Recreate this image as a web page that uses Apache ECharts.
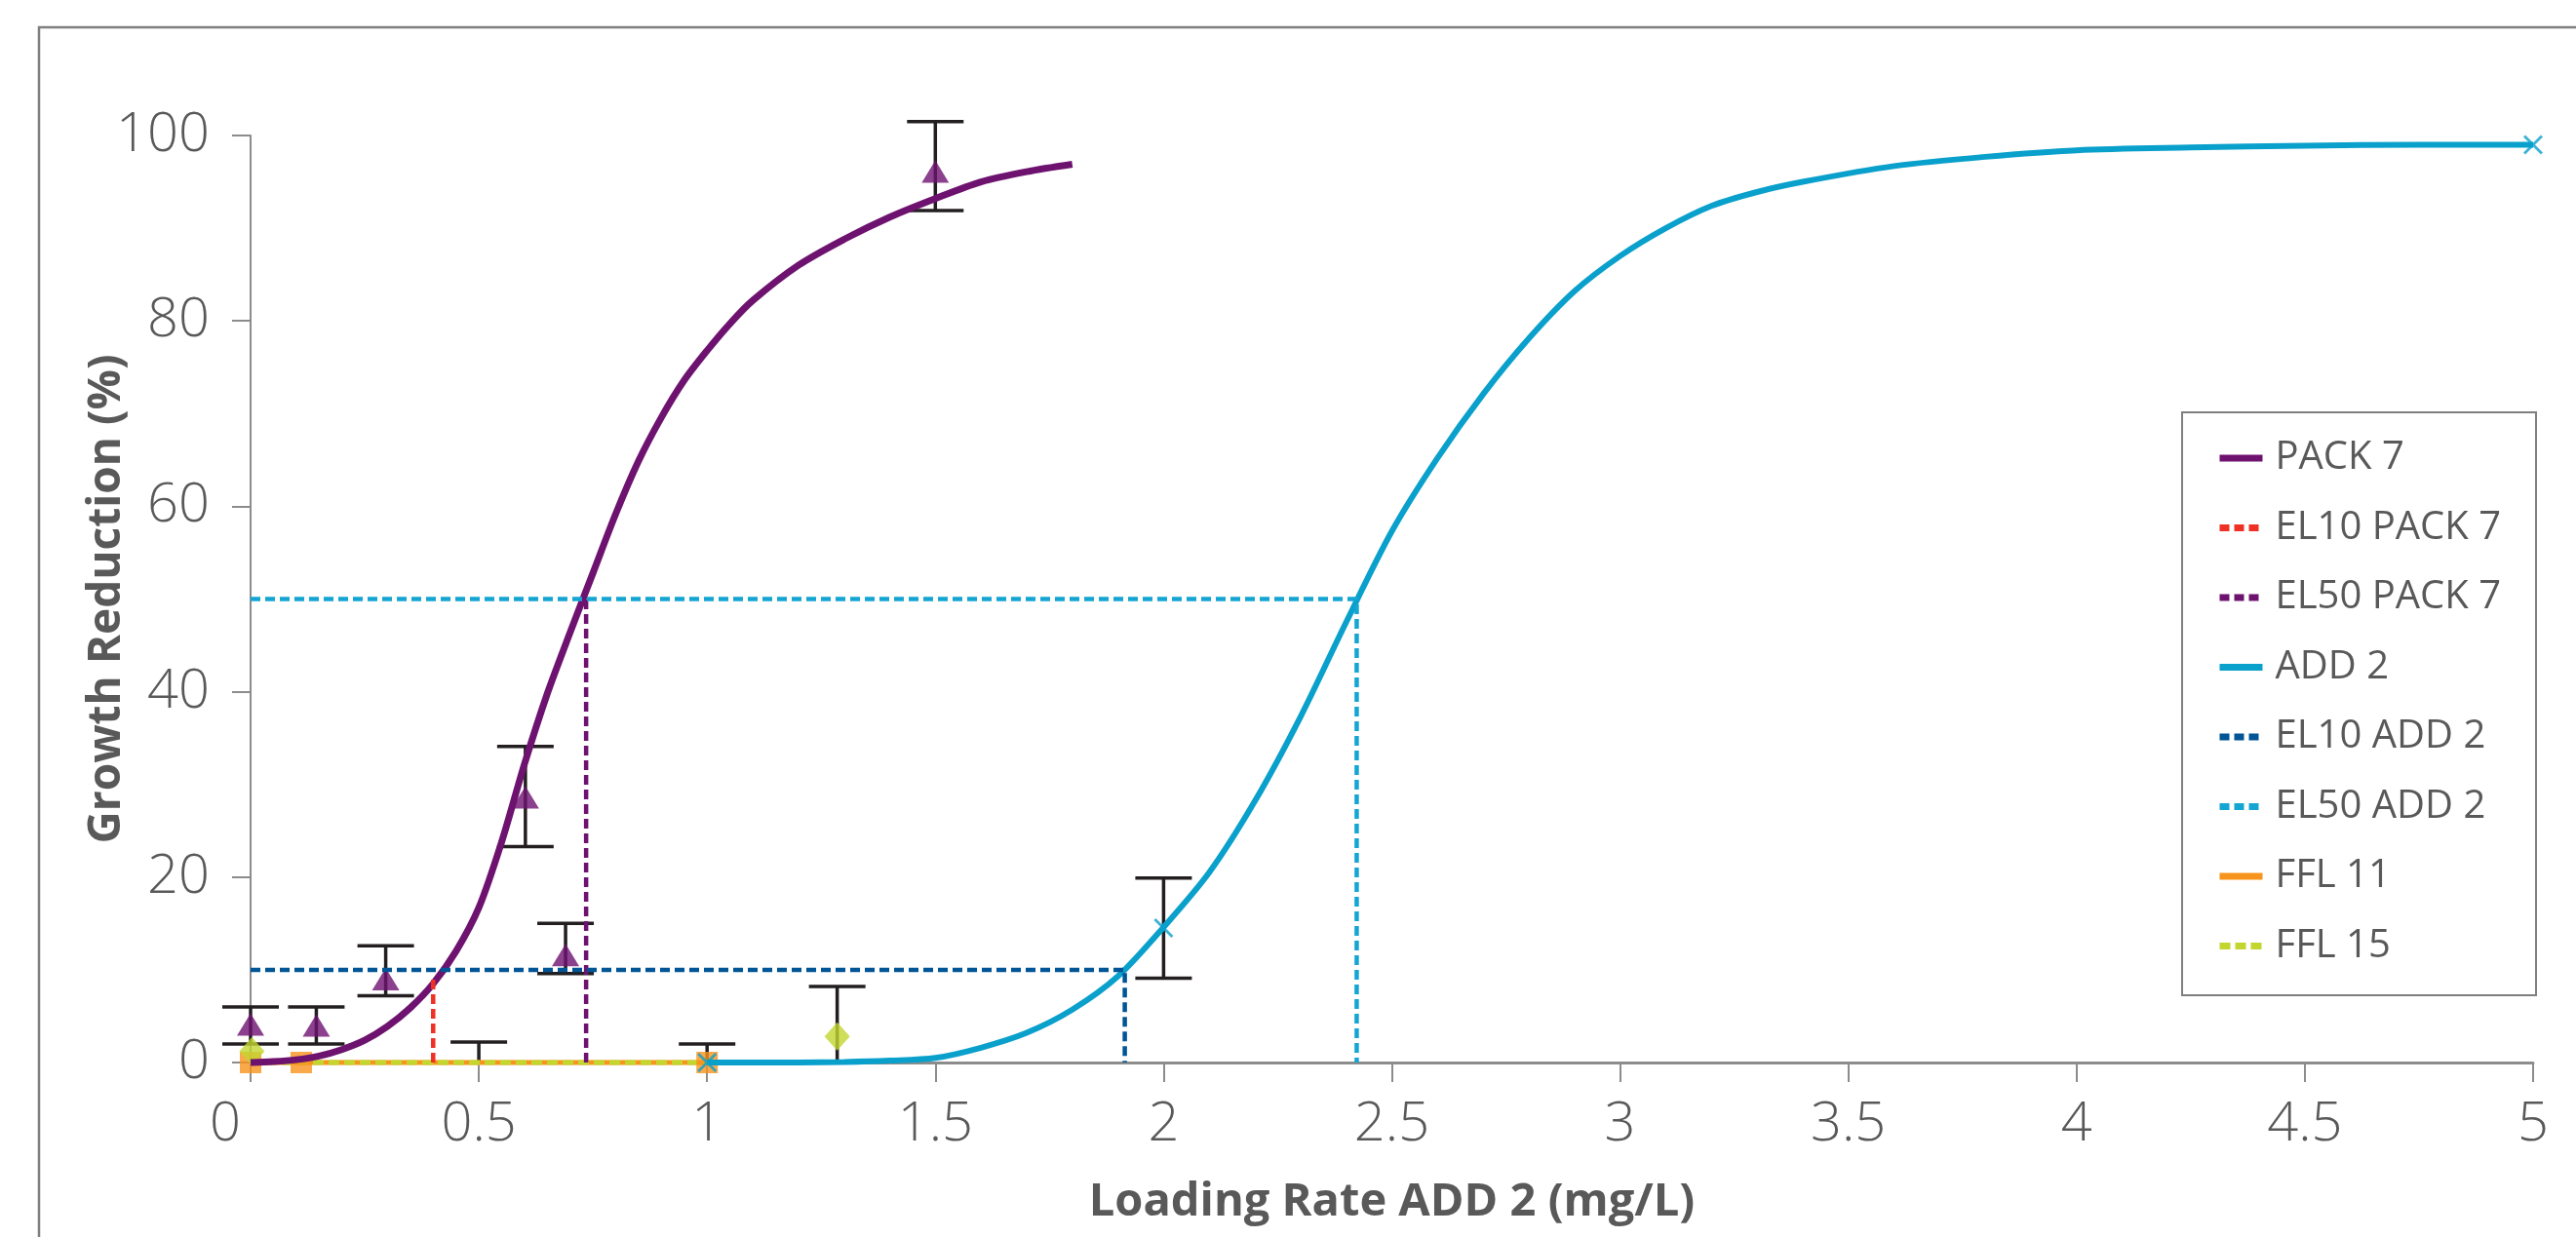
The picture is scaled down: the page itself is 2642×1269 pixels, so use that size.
<!DOCTYPE html>
<html>
<head>
<meta charset="utf-8">
<style>
html,body{margin:0;padding:0;background:#ffffff;}
#chart{width:2642px;height:1269px;}
</style>
<script src="https://cdn.jsdelivr.net/npm/echarts/dist/echarts.min.js"></script>
</head>
<body>
<div id="chart"></div>
<script>
// ---------- data ----------
const xTickValues = [0, 0.5, 1, 1.5, 2, 2.5, 3, 3.5, 4, 4.5, 5];
const yTickValues = [0, 20, 40, 60, 80, 100];

const legendNames = ['PACK 7', 'EL10 PACK 7', 'EL50 PACK 7', 'ADD 2', 'EL10 ADD 2', 'EL50 ADD 2', 'FFL 11', 'FFL 15'];

// fitted curve PACK 7
const pack7CurveX = [0, 0.05, 0.1, 0.15, 0.2, 0.25, 0.3, 0.35, 0.4, 0.45, 0.5, 0.55, 0.6, 0.65, 0.7, 0.75, 0.8, 0.85, 0.9, 0.95, 1.0, 1.05, 1.1, 1.2, 1.3, 1.4, 1.5, 1.6, 1.7, 1.8];
const pack7CurveY = [0, 0.1, 0.3, 0.7, 1.4, 2.4, 3.9, 5.9, 8.5, 12.0, 16.7, 23.8, 32.2, 39.8, 46.4, 52.8, 59.2, 64.9, 69.6, 73.6, 76.8, 79.7, 82.2, 86.0, 88.8, 91.2, 93.2, 95.0, 96.1, 96.9];

// measured PACK 7 points (triangles) with error bars
const pack7PtX = [0, 0.144, 0.296, 0.602, 0.69, 1.5];
const pack7PtY = [4.1, 4.0, 9.0, 28.6, 11.6, 96.1];
const pack7ErrLow = [2.0, 2.0, 7.2, 23.3, 9.6, 91.9];
const pack7ErrHigh = [6.0, 6.0, 12.6, 34.1, 15.0, 101.5];

// fitted curve ADD 2
const add2CurveX = [1.0, 1.2, 1.3, 1.4, 1.5, 1.6, 1.7, 1.8, 1.9, 2.0, 2.1, 2.2, 2.3, 2.4, 2.5, 2.6, 2.7, 2.8, 2.9, 3.0, 3.1, 3.2, 3.3, 3.4, 3.6, 3.8, 4.0, 4.25, 4.5, 4.75, 5.0];
const add2CurveY = [0, 0, 0.05, 0.2, 0.5, 1.6, 3.2, 5.7, 9.3, 14.6, 20.5, 28.2, 37.3, 47.5, 57.3, 65.2, 72.1, 78.1, 83.2, 87.0, 90.0, 92.4, 93.9, 95.0, 96.7, 97.7, 98.4, 98.7, 98.9, 99.0, 99.0];

// measured ADD 2 points (crosses) with error bars
const add2PtX = [1, 2, 5];
const add2PtY = [0, 14.5, 99.0];
const add2ErrX = [0.5, 1, 2];
const add2ErrLow = [0, 0, 9.1];
const add2ErrHigh = [2.2, 2.0, 19.9];

// EL lines
const el10Pack7X = [0.40, 0.40];
const el10Pack7Y = [0, 9];
const el50Pack7X = [0.735, 0.735];
const el50Pack7Y = [0, 50];
const el10Add2X = [0, 1.915, 1.915];
const el10Add2Y = [10, 10, 0];
const el50Add2X = [0, 2.423, 2.423];
const el50Add2Y = [50, 50, 0];

// FFL 11 and FFL 15
const ffl11LineX = [0, 1];
const ffl11LineY = [0, 0];
const ffl11PtX = [0, 0.111, 1];
const ffl11PtY = [0, 0, 0];
const ffl15LineX = [0, 1];
const ffl15LineY = [0, 0];
const ffl15PtX = [0.003, 1.285];
const ffl15PtY = [1.2, 2.8];
const ffl15ErrX = [1.285];
const ffl15ErrLow = [0];
const ffl15ErrHigh = [8.2];

// ---------- styles ----------
const C = {
  purple: '#6e1270',
  red: '#ee3124',
  blue: '#0aa0cc',
  darkBlue: '#005596',
  lightBlue: '#14a5d3',
  orange: '#f7941d',
  green: '#c3d62f',
  err: '#231f20',
  axis: '#8c8c8c',
  text: '#595959'
};

function pairs(xs, ys) { return xs.map((x, i) => [x, ys[i]]); }
function errPairs(xs, lo, hi) { return xs.map((x, i) => [x, lo[i], hi[i]]); }

const errData = [].concat(
  errPairs(pack7PtX, pack7ErrLow, pack7ErrHigh),
  errPairs(add2ErrX, add2ErrLow, add2ErrHigh),
  errPairs(ffl15ErrX, ffl15ErrLow, ffl15ErrHigh)
);

const Y_MIN = 0;
function renderErr(params, api) {
  const x = api.value(0), lo = api.value(1), hi = api.value(2);
  const top = api.coord([x, hi]);
  const bot = api.coord([x, Math.max(lo, Y_MIN)]);
  const half = 29;
  const style = { stroke: C.err, lineWidth: 3.5 };
  const children = [
    { type: 'line', shape: { x1: top[0], y1: top[1], x2: bot[0], y2: bot[1] }, style: style },
    { type: 'line', shape: { x1: top[0] - half, y1: top[1], x2: top[0] + half, y2: top[1] }, style: style }
  ];
  if (lo > Y_MIN) {
    children.push({ type: 'line', shape: { x1: bot[0] - half, y1: bot[1], x2: bot[0] + half, y2: bot[1] }, style: style });
  }
  return { type: 'group', children: children };
}

const crossPath = 'path://M1,0L5,4L9,0L10,1L6,5L10,9L9,10L5,6L1,10L0,9L4,5L0,1Z';
const dash = [10, 5];

function lineSeries(name, xs, ys, color, width, type, z, smooth) {
  return {
    name: name, type: 'line', data: pairs(xs, ys), z: z,
    symbol: 'none', showSymbol: false, clip: false,
    smooth: smooth ? 0.3 : false,
    lineStyle: { color: color, width: width, type: type, cap: 'butt' },
    itemStyle: { color: color },
    emphasis: { disabled: true }
  };
}

const option = {
  animation: false,
  backgroundColor: '#ffffff',
  grid: { left: 257, right: 44, top: 139, bottom: 179, containLabel: false },
  xAxis: {
    type: 'value', min: 0, max: 5, interval: 0.5,
    name: 'Loading Rate ADD 2 (mg/L)', nameLocation: 'middle', nameGap: 120, nameMoveOverlap: false,
    nameTextStyle: { color: C.text, fontSize: 47, fontWeight: 'bold', fontFamily: 'Open Sans' },
    axisLine: { show: true, onZero: false, lineStyle: { color: C.axis, width: 3 } },
    axisTick: { show: true, inside: false, length: 20, lineStyle: { color: C.axis, width: 2 } },
    axisLabel: {
      color: C.text, fontSize: 56, fontFamily: 'Open Sans', fontWeight: 300, margin: 36,
      formatter: function (v) { return v === 0 ? '{zero|0}' : String(v); },
      rich: { zero: { fontSize: 56, fontFamily: 'Open Sans', fontWeight: 300, color: C.text, padding: [0, 52, 0, 0] } }
    },
    splitLine: { show: false }
  },
  yAxis: {
    type: 'value', min: 0, max: 100, interval: 20,
    name: 'Growth Reduction (%)', nameLocation: 'middle', nameGap: 124, nameRotate: 90, nameMoveOverlap: false,
    nameTextStyle: { color: C.text, fontSize: 46, fontWeight: 'bold', fontFamily: 'Open Sans' },
    axisLine: { show: true, lineStyle: { color: C.axis, width: 2 } },
    axisTick: { show: true, inside: false, length: 19, lineStyle: { color: C.axis, width: 2 } },
    axisLabel: { color: C.text, fontSize: 56, fontFamily: 'Open Sans', fontWeight: 300, margin: 42 },
    splitLine: { show: false }
  },
  legend: {
    data: legendNames,
    orient: 'vertical', left: 2268, top: 445,
    itemWidth: 44, itemHeight: 30, itemGap: 31.5,
    selectedMode: false,
    itemStyle: { opacity: 0 },
    lineStyle: { width: 7 },
    textStyle: { color: C.text, fontSize: 40, fontFamily: 'Open Sans', padding: [0, 0, 0, 8] }
  },
  graphic: [
    { type: 'rect', z: -1, shape: { x: 40, y: 28, width: 2700, height: 1400 },
      style: { fill: 'none', stroke: '#7f7f7f', lineWidth: 2.5 }, silent: true },
    { type: 'rect', z: 1, shape: { x: 2238, y: 423, width: 363, height: 598 },
      style: { fill: '#ffffff', stroke: '#7f7f7f', lineWidth: 2 }, silent: true }
  ],
  series: [
    { name: 'error bars', type: 'custom', renderItem: renderErr, data: errData,
      encode: { x: 0, y: [1, 2] }, z: 2, silent: true },
    lineSeries('FFL 11', ffl11LineX, ffl11LineY, C.orange, 5, 'solid', 3, false),
    lineSeries('FFL 15', ffl15LineX, ffl15LineY, C.green, 5, [11, 5], 3.1, false),
    { name: 'FFL 11 points', type: 'scatter', data: pairs(ffl11PtX, ffl11PtY), symbol: 'rect',
      symbolSize: 22, itemStyle: { color: C.orange }, z: 4, clip: false },
    { name: 'FFL 15 points', type: 'scatter', data: pairs(ffl15PtX, ffl15PtY), symbol: 'diamond',
      symbolSize: [26, 29], itemStyle: { color: C.green }, z: 4, clip: false },
    { name: 'PACK 7 points', type: 'scatter', data: pairs(pack7PtX, pack7PtY), symbol: 'triangle',
      symbolSize: [28, 23], itemStyle: { color: C.purple }, z: 4, clip: false },
    lineSeries('PACK 7', pack7CurveX, pack7CurveY, C.purple, 7, 'solid', 5, true),
    lineSeries('EL10 PACK 7', el10Pack7X, el10Pack7Y, C.red, 4.5, dash, 5, false),
    lineSeries('EL50 PACK 7', el50Pack7X, el50Pack7Y, C.purple, 4.5, dash, 5, false),
    lineSeries('ADD 2', add2CurveX, add2CurveY, C.blue, 6, 'solid', 5, true),
    lineSeries('EL10 ADD 2', el10Add2X, el10Add2Y, C.darkBlue, 4.5, dash, 5, false),
    lineSeries('EL50 ADD 2', el50Add2X, el50Add2Y, C.lightBlue, 4.5, dash, 5, false),
    { name: 'ADD 2 points', type: 'scatter', data: pairs(add2PtX, add2PtY), symbol: crossPath,
      symbolSize: 20, itemStyle: { color: C.blue }, z: 6, clip: false }
  ]
};

const chart = echarts.init(document.getElementById('chart'), null, { renderer: 'canvas' });
chart.setOption(option);
</script>
</body>
</html>
